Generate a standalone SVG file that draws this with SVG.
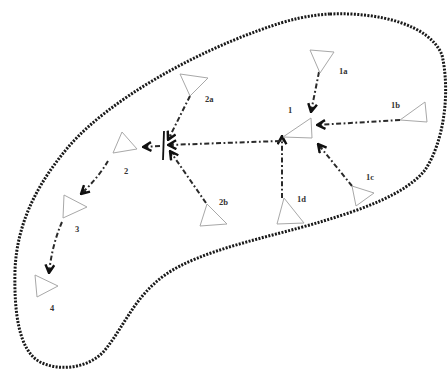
<svg xmlns="http://www.w3.org/2000/svg" width="448" height="384" viewBox="0 0 448 384">
<defs>
<style>
.blob{fill:none;stroke:#1a1a1a;stroke-width:3;stroke-dasharray:2 1.4}
.tri{fill:none;stroke:#a8a8a8;stroke-width:1}
.edge{fill:none;stroke:#2a2a2a;stroke-width:2;stroke-dasharray:5 2.5 1.8 2.5;marker-end:url(#arr)}
.lbl{font-family:"Liberation Serif",serif;font-size:8.5px;fill:#333;font-weight:bold}
</style>
<marker id="arr" viewBox="0 0 10 10" refX="9" refY="5" markerWidth="11" markerHeight="11" orient="auto" markerUnits="userSpaceOnUse">
<path d="M1.5,1 L9,5 L1.5,9" fill="none" stroke="#111" stroke-width="2.2"/>
<path d="M4,3.5 L8,5 L4,6.5" fill="none" stroke="#111" stroke-width="1.2"/>
</marker>
</defs>
<rect width="448" height="384" fill="#fff"/>
<path class="blob" d="M330,14 C380,12 430,25 442,55 C450,90 445,140 425,170 C405,195 360,210 320,222 C270,237 200,250 165,275 C135,296 125,325 105,350 C90,368 60,372 40,362 C18,350 14,310 15,270 C17,220 40,180 70,145 C110,100 190,55 260,30 C290,19 310,15 330,14 Z"/>
<g id="connectors">
<path class="edge" d="M319,72 L311,112"/>
<path class="edge" d="M400,120 L317,125"/>
<path class="edge" d="M352,186 L318,144"/>
<path class="edge" d="M282,198 L282,136"/>
<path class="edge" d="M280,141 L168,145"/>
<path class="edge" d="M190,96 L168,140"/>
<path class="edge" d="M206,203 L170,151"/>
<path class="edge" d="M160,146 L143,147"/>
<path class="edge" d="M108,161 Q98,178 81,194"/>
<path class="edge" d="M62,222 Q52,245 49,273"/>
<path d="M164,131 L163,160" fill="none" stroke="#111" stroke-width="1.8"/>
</g>
<g id="n1a"><polygon class="tri" points="310,50 334,52 320,73"/><text class="lbl" x="339" y="74">1a</text></g>
<g id="n1b"><polygon class="tri" points="400,120 425,102 427,122"/><text class="lbl" x="391" y="108">1b</text></g>
<g id="n1c"><polygon class="tri" points="352,186 374,193 356,206"/><text class="lbl" x="366" y="180">1c</text></g>
<g id="n1d"><polygon class="tri" points="284,198 277,224 304,223"/><text class="lbl" x="297" y="202">1d</text></g>
<g id="n1"><polygon class="tri" points="283,137 311,118 312,138"/><text class="lbl" x="288" y="113">1</text></g>
<g id="n2a"><polygon class="tri" points="180,74 208,78 190,96"/><text class="lbl" x="205" y="102">2a</text></g>
<g id="n2b"><polygon class="tri" points="207,204 200,226 227,224"/><text class="lbl" x="219" y="205">2b</text></g>
<g id="n2"><polygon class="tri" points="122,132 113,153 137,149"/><text class="lbl" x="124" y="174">2</text></g>
<g id="n3"><polygon class="tri" points="64,195 63,218 87,207"/><text class="lbl" x="75" y="232">3</text></g>
<g id="n4"><polygon class="tri" points="35,275 37,297 58,286"/><text class="lbl" x="50" y="311">4</text></g>
</svg>
